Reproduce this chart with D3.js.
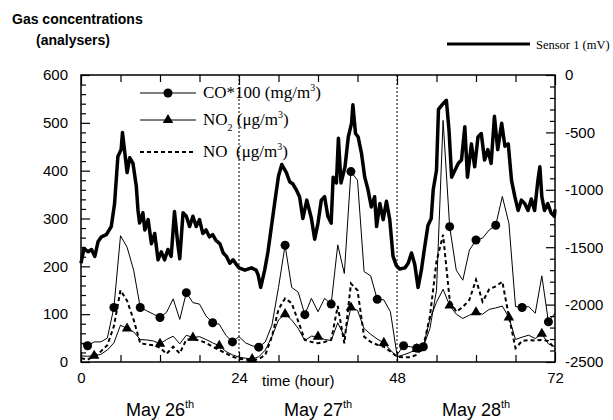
<!DOCTYPE html>
<html><head><meta charset="utf-8">
<script src="https://cdn.jsdelivr.net/npm/d3@7"></script>
<style>body{margin:0;background:#fff}svg{display:block}</style>
</head><body>
<svg id="chart" width="613" height="420"></svg>
<script>
// ---- data ----
const hours = d3.range(0, 73);
const coValues = [39,34,42,42,50,114,264,240,192,114,107,100,93,104,132,89,145,124,121,96,82,79,56,42,53,40,34,31,42,77,156,244,156,146,99,133,105,133,121,245,185,398,380,189,180,131,130,105,15,34,32,29,32,70,150,505,283,192,171,234,255,259,276,286,346,290,116,114,116,102,180,84,102];
const coMarkerHours = [1,5,9,12,16,20,23,27,31,34,38,41,45,49,51,52,56,60,63,67,71];
const no2Values = [13,12,13,16,25,40,77,70,63,47,46,44,38,47,54,38,56,51,53,47,40,34,22,15,10,8,6,11,25,53,88,100,88,70,45,54,53,47,45,82,53,114,108,70,58,48,40,25,11,15,20,27,32,90,125,152,118,100,91,98,104,100,110,113,117,93,47,52,56,49,59,38,32];
const no2MarkerHours = [2,7,12,17,21,26,31,36,41,46,51,56,60,65,70];
const noValues = [8,5,12,22,35,75,150,128,88,39,37,35,30,17,32,18,47,47,45,40,32,25,18,11,7,5,4,6,15,53,110,133,123,85,46,42,39,42,46,117,39,164,150,53,42,36,32,22,11,10,10,15,32,95,210,266,130,105,115,130,172,126,152,158,168,95,29,44,46,45,46,44,27];
const sensorHours = [0,0.45,1.06,1.6,2.1,2.6,3.1,3.85,4.6,5.1,5.6,6.1,6.3,6.6,7.0,7.4,7.9,8.4,8.66,8.9,9.4,9.7,10.2,10.7,11.2,11.7,12.2,12.7,13.2,13.7,14.2,14.7,15.0,15.5,16.0,16.5,17.0,17.5,18.0,18.5,19.0,19.5,20.0,20.5,21.1,21.6,22.1,22.6,23.1,23.6,24.0,24.9,25.9,26.6,26.9,27.3,27.9,28.4,29.0,29.5,30.0,30.5,31.2,31.7,32.2,32.7,33.2,33.7,34.3,35.0,35.5,36.0,36.5,37.0,37.5,38.0,38.3,38.8,39.1,39.5,40.1,40.6,41.1,41.3,41.7,42.1,42.6,43.1,43.6,44.1,44.6,44.9,45.4,45.9,46.4,46.9,47.4,47.9,48.4,49.2,49.7,50.2,50.7,51.2,51.7,52.2,52.7,53.2,53.5,54.0,54.3,55.0,55.5,55.9,56.3,56.8,57.3,57.8,58.3,58.7,59.3,59.8,60.3,60.8,61.3,61.8,62.3,62.8,63.3,63.9,64.4,64.9,65.4,65.9,66.4,66.9,67.4,67.9,68.4,68.9,69.4,69.7,70.0,70.4,70.9,71.4,71.9,72.0];
const sensorValues = [-1640,-1510,-1540,-1520,-1580,-1450,-1410,-1390,-1320,-1120,-710,-650,-500,-650,-850,-720,-770,-970,-1180,-1290,-1200,-1350,-1260,-1470,-1380,-1610,-1540,-1610,-1520,-1580,-1190,-1470,-1600,-1200,-1230,-1320,-1230,-1320,-1260,-1380,-1350,-1410,-1390,-1440,-1470,-1550,-1580,-1640,-1610,-1650,-1680,-1700,-1680,-1700,-1740,-1850,-1700,-1540,-1290,-1080,-880,-780,-850,-930,-950,-1000,-1060,-1250,-1090,-1250,-1430,-1290,-1090,-1060,-1230,-1290,-890,-940,-550,-940,-800,-540,-420,-260,-510,-540,-680,-890,-1000,-1150,-1060,-1320,-1120,-1260,-1100,-1260,-1580,-1660,-1690,-1680,-1640,-1550,-1650,-1850,-1700,-1500,-1310,-1250,-1000,-830,-300,-250,-220,-480,-890,-830,-770,-740,-450,-890,-600,-800,-540,-510,-740,-650,-770,-360,-650,-420,-620,-600,-920,-1060,-1180,-1090,-1120,-1180,-1080,-1180,-920,-800,-1060,-1180,-1120,-1200,-1230,-1170];
const leftTicks = [0,100,200,300,400,500,600];
const rightTicks = [0,-500,-1000,-1500,-2000,-2500];
const hourLabels = [0,24,48,72];
const dayLabels = [{day:"May 26", sup:"th", hour:12},{day:"May 27", sup:"th", hour:36},{day:"May 28", sup:"th", hour:60}];

// ---- layout ----
const svg = d3.select("#chart");
const L = 81, R = 555, T = 75, B = 362;
const x = d3.scaleLinear().domain([0,72]).range([L,R]);
const yL = d3.scaleLinear().domain([0,600]).range([B,T]);
const yR = d3.scaleLinear().domain([-2500,0]).range([B,T]);
const sans = "Liberation Sans, Arial, sans-serif";
const serif = "Liberation Serif, Times New Roman, serif";
const plain = d => String(d);

// dotted day separators
[24,48].forEach(h => svg.append("line").attr("x1",x(h)).attr("x2",x(h)).attr("y1",T).attr("y2",B)
  .attr("stroke","#000").attr("stroke-width",1).attr("stroke-dasharray","2,2"));

// axes
function styleAxis(g){ g.select(".domain").remove(); g.selectAll("line").attr("stroke","#000").attr("stroke-width",1.2);
  g.selectAll("text").attr("font-family",sans).attr("font-size",15).attr("fill","#000"); }
const minorL = d3.range(0,601,20).filter(v=>v%100);
svg.append("g").attr("transform",`translate(${L},0)`).call(d3.axisLeft(yL).tickValues(minorL).tickSize(-5).tickFormat("")).call(styleAxis);
svg.append("g").attr("transform",`translate(${L},0)`).call(d3.axisLeft(yL).tickValues(leftTicks).tickSize(-9).tickPadding(13).tickFormat(plain)).call(styleAxis);
const minorR = d3.range(-2500,1,100).filter(v=>v%500);
svg.append("g").attr("transform",`translate(${R},0)`).call(d3.axisRight(yR).tickValues(minorR).tickSize(-5).tickFormat("")).call(styleAxis);
svg.append("g").attr("transform",`translate(${R},0)`).call(d3.axisRight(yR).tickValues(rightTicks).tickSize(-9).tickPadding(10).tickFormat(plain)).call(styleAxis);
const minorX = [6,12,18,30,36,42,54,60,66];
svg.append("g").attr("transform",`translate(0,${B})`).call(d3.axisBottom(x).tickValues(minorX).tickSize(-7).tickFormat("")).call(styleAxis);
svg.append("g").attr("transform",`translate(0,${B})`).call(d3.axisBottom(x).tickValues(hourLabels).tickSize(-10).tickPadding(10).tickFormat(plain)).call(styleAxis);
svg.append("g").attr("transform",`translate(0,${T})`).call(d3.axisTop(x).tickValues(minorX).tickSize(-7).tickFormat("")).call(styleAxis);
svg.append("g").attr("transform",`translate(0,${T})`).call(d3.axisTop(x).tickValues(hourLabels).tickSize(-10).tickFormat("")).call(styleAxis);
svg.append("rect").attr("x",L).attr("y",T).attr("width",R-L).attr("height",B-T).attr("fill","none").attr("stroke","#000").attr("stroke-width",1.5);

// series
const lineL = d3.line().x((d,i)=>x(hours[i])).y(d=>yL(d));
svg.append("path").datum(noValues).attr("d",lineL).attr("fill","none").attr("stroke","#000").attr("stroke-width",2).attr("stroke-dasharray","4,3");
svg.append("path").datum(no2Values).attr("d",lineL).attr("fill","none").attr("stroke","#000").attr("stroke-width",1);
svg.append("path").datum(coValues).attr("d",lineL).attr("fill","none").attr("stroke","#000").attr("stroke-width",1);
const sensorLine = d3.line().x((d,i)=>x(sensorHours[i])).y(d=>yR(d));
svg.append("path").datum(sensorValues).attr("d",sensorLine).attr("fill","none").attr("stroke","#000").attr("stroke-width",3.5).attr("stroke-linejoin","round");

svg.selectAll(".co").data(coMarkerHours).join("circle").attr("cx",h=>x(h)).attr("cy",h=>yL(coValues[h])).attr("r",4.5).attr("fill","#000");
const tri = d3.symbol().type(d3.symbolTriangle).size(48);
svg.selectAll(".no2").data(no2MarkerHours).join("path").attr("d",tri).attr("transform",h=>`translate(${x(h)},${yL(no2Values[h])})`).attr("fill","#000");

// inner legend
const lg = [{y:93, mark:"circle", dash:null},{y:120, mark:"tri", dash:null},{y:152, mark:null, dash:"4,3"}];
lg.forEach((e,k)=>{
  svg.append("line").attr("x1",140).attr("x2",196).attr("y1",e.y).attr("y2",e.y).attr("stroke","#000")
    .attr("stroke-width",e.dash?2:1).attr("stroke-dasharray",e.dash);
  if(e.mark==="circle") svg.append("circle").attr("cx",168).attr("cy",e.y).attr("r",4.5);
  if(e.mark==="tri") svg.append("path").attr("d",tri).attr("transform",`translate(168,${e.y})`);
  const t = svg.append("text").attr("x",203).attr("y",e.y+5).attr("font-family",serif).attr("font-size",17);
  if(k===0){ t.append("tspan").text("CO*100 (mg/m"); t.append("tspan").attr("dy",-7).attr("font-size",10).text("3"); t.append("tspan").attr("dy",7).text(")"); }
  if(k===1){ t.append("tspan").text("NO"); t.append("tspan").attr("dy",6).attr("font-size",10).text("2"); t.append("tspan").attr("dy",-6).text(" (μg/m"); t.append("tspan").attr("dy",-7).attr("font-size",10).text("3"); t.append("tspan").attr("dy",7).text(")"); }
  if(k===2){ t.append("tspan").text("NO\u00a0\u00a0(μg/m"); t.append("tspan").attr("dy",-7).attr("font-size",10).text("3"); t.append("tspan").attr("dy",7).text(")"); }
});

// sensor legend
svg.append("line").attr("x1",447).attr("x2",530).attr("y1",44).attr("y2",44).attr("stroke","#000").attr("stroke-width",3);
svg.append("text").attr("x",536).attr("y",48.5).attr("font-family",serif).attr("font-size",12.5).text("Sensor 1 (mV)");

// titles
svg.append("text").attr("x",12).attr("y",24).attr("font-family",sans).attr("font-weight","bold").attr("font-size",14).text("Gas concentrations");
svg.append("text").attr("x",36).attr("y",45).attr("font-family",sans).attr("font-weight","bold").attr("font-size",14).text("(analysers)");
svg.append("text").attr("x",x(33)).attr("y",386).attr("font-family",sans).attr("font-size",15).attr("text-anchor","middle").text("time (hour)");
dayLabels.forEach(d=>{
  const t = svg.append("text").attr("x",x(d.hour)).attr("y",416).attr("font-family",sans).attr("font-size",18).attr("text-anchor","middle");
  t.append("tspan").text(d.day); t.append("tspan").attr("dy",-8).attr("font-size",11).text(d.sup);
});
</script>
</body></html>
